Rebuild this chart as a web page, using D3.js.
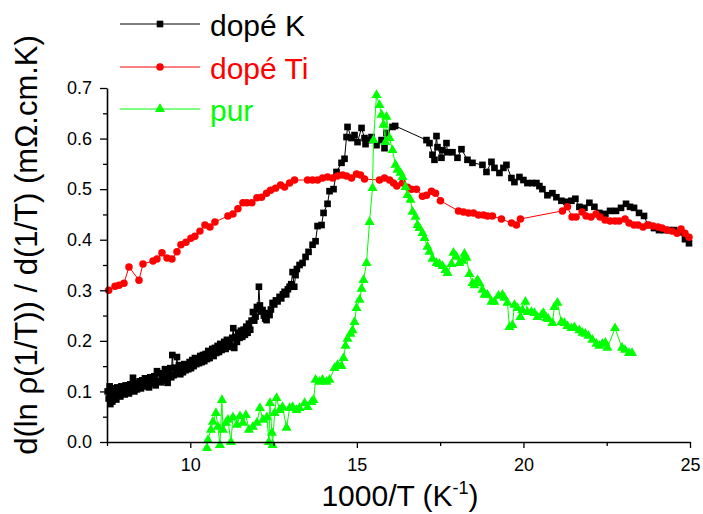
<!DOCTYPE html>
<html>
<head>
<meta charset="utf-8">
<script src="https://cdn.jsdelivr.net/npm/d3@7"></script>
<style>
html,body{margin:0;padding:0;background:#fff;}
svg{display:block;font-family:"Liberation Sans",Arial,Helvetica,sans-serif;}
</style>
</head>
<body>
<svg id="chart" width="703" height="514"></svg>
<script>
// ---- data (x = 1000/T in K^-1, y = d(ln rho(1/T))/d(1/T) in mOhm.cm.K) ----
const seriesNames = ["dopé K", "dopé Ti", "pur"];
const xTicks = [10, 15, 20, 25];
const xMinorTicks = [7.5, 12.5, 17.5, 22.5];
const yTicks = [0.0, 0.1, 0.2, 0.3, 0.4, 0.5, 0.6, 0.7];
const yMinorTicks = [0.05, 0.15, 0.25, 0.35, 0.45, 0.55, 0.65];

const dopeK = [
[7.52,.100],[7.55,.086],[7.58,.110],[7.60,.075],[7.63,.095],[7.66,.080],[7.69,.106],[7.72,.090],[7.75,.099],[7.78,.084],
[7.81,.108],[7.84,.094],[7.87,.100],[7.90,.090],[7.93,.110],[7.96,.098],[8.00,.104],[8.03,.094],[8.06,.112],[8.09,.100],
[8.12,.108],[8.16,.096],[8.20,.114],[8.24,.102],[8.28,.127],[8.32,.100],[8.36,.116],[8.40,.104],[8.44,.114],[8.48,.120],
[8.52,.106],[8.56,.122],[8.60,.110],[8.64,.126],[8.68,.112],[8.72,.122],[8.76,.108],[8.80,.128],[8.84,.116],[8.88,.124],
[8.92,.130],[8.96,.112],[9.00,.140],[9.04,.120],[9.08,.136],[9.12,.118],[9.16,.132],[9.20,.122],[9.24,.144],[9.28,.126],
[9.32,.117],[9.36,.138],[9.40,.146],[9.43,.128],[9.46,.172],[9.50,.132],[9.54,.147],[9.57,.136],[9.60,.168],[9.63,.138],
[9.66,.152],[9.70,.134],[9.74,.150],[9.78,.138],[9.82,.154],[9.86,.142],[9.90,.152],[9.94,.144],[9.98,.158],[10.02,.146],
[10.06,.162],[10.10,.150],[10.14,.166],[10.18,.154],[10.22,.164],[10.26,.156],[10.30,.170],[10.34,.158],[10.38,.172],[10.42,.160],
[10.46,.174],[10.50,.164],[10.54,.180],[10.58,.166],[10.62,.178],[10.66,.184],[10.70,.170],[10.74,.186],[10.78,.176],[10.82,.190],
[10.86,.178],[10.90,.194],[10.94,.182],[10.98,.190],[11.02,.198],[11.06,.184],[11.10,.202],[11.14,.188],[11.18,.200],[11.22,.190],
[11.26,.206],[11.29,.225],[11.32,.186],[11.36,.208],[11.40,.198],[11.44,.216],[11.48,.206],[11.52,.220],[11.56,.208],[11.60,.222],
[11.64,.212],[11.68,.228],[11.72,.216],[11.76,.234],[11.80,.222],[11.84,.240],[11.88,.257],[11.92,.240],[11.96,.248],[12.00,.267],
[12.03,.262],[12.06,.307],[12.09,.270],[12.13,.258],[12.17,.261],[12.21,.250],[12.25,.244],[12.29,.241],[12.33,.255],[12.38,.251],
[12.42,.262],[12.47,.275],[12.52,.272],[12.57,.280],[12.62,.278],[12.68,.287],[12.73,.284],[12.78,.292],[12.83,.297],[12.88,.292],
[12.93,.302],[12.98,.307],[13.03,.312],[13.07,.336],[13.12,.307],[13.16,.330],[13.20,.342],[13.28,.350],[13.37,.354],[13.46,.366],
[13.55,.376],[13.67,.390],[13.76,.397],[13.82,.427],[13.94,.429],[14.00,.453],[14.12,.471],[14.18,.496],[14.30,.500],[14.39,.534],
[14.54,.552],[14.63,.560],[14.69,.603],[14.72,.623],[14.84,.601],[14.93,.607],[15.02,.593],[15.14,.621],[15.23,.601],[15.26,.589],
[15.38,.597],[15.44,.603],[15.59,.587],[15.74,.597],[15.83,.581],[15.89,.611],[16.07,.623],[16.15,.625],
[17.09,.597],[17.18,.591],[17.27,.568],[17.33,.558],[17.39,.605],[17.42,.583],[17.54,.562],[17.57,.577],[17.69,.591],[17.72,.573],
[17.87,.573],[18.02,.562],[18.14,.579],[18.32,.558],[18.47,.552],[18.77,.548],[18.89,.534],[19.04,.554],[19.13,.542],[19.28,.532],
[19.40,.542],[19.49,.548],[19.64,.522],[19.73,.514],[19.88,.524],[20.00,.518],[20.12,.512],[20.27,.512],[20.39,.512],[20.48,.506],
[20.57,.500],[20.72,.488],[20.87,.492],[20.99,.484],[21.14,.477],[21.29,.475],[21.44,.477],[21.56,.481],[21.68,.465],[21.83,.463],
[21.98,.473],[22.13,.465],[22.28,.453],[22.46,.451],[22.60,.457],[22.78,.457],[22.93,.463],[23.08,.471],[23.20,.465],[23.32,.463],
[23.47,.453],[23.62,.447],[23.74,.429],[23.92,.423],[24.07,.419],[24.22,.419],[24.37,.419],[24.52,.419],[24.67,.415],[24.85,.401],
[24.97,.393]
];

const dopeTi = [
[7.55,.300],[7.74,.308],[7.86,.310],[8.01,.314],[8.16,.346],[8.46,.320],[8.58,.352],[8.88,.358],[9.00,.362],[9.15,.374],
[9.30,.364],[9.45,.362],[9.60,.376],[9.72,.390],[9.87,.395],[10.02,.403],[10.14,.407],[10.29,.417],[10.44,.429],[10.59,.425],
[10.74,.435],[11.13,.447],[11.28,.451],[11.43,.461],[11.58,.473],[11.70,.473],[11.85,.473],[12.00,.483],[12.14,.484],[12.29,.492],
[12.41,.498],[12.56,.502],[12.71,.508],[12.83,.504],[12.98,.512],[13.13,.518],[13.52,.518],[13.67,.518],[13.82,.518],[13.97,.522],
[14.12,.524],[14.27,.522],[14.42,.526],[14.57,.528],[14.69,.526],[14.84,.522],[14.99,.530],[15.11,.528],[15.23,.520],[15.68,.518],
[15.83,.522],[15.98,.518],[16.10,.512],[16.20,.506],[16.37,.512],[16.52,.504],[16.64,.500],[16.79,.500],[16.97,.486],[17.09,.488],
[17.24,.496],[17.36,.492],[17.51,.477],[18.05,.457],[18.20,.455],[18.35,.453],[18.50,.453],[18.65,.449],[18.80,.449],[18.92,.447],
[19.07,.447],[19.34,.441],[19.64,.433],[19.79,.429],[19.91,.441],[21.17,.457],[21.32,.465],[21.46,.445],[21.58,.445],[21.76,.455],
[21.88,.447],[22.03,.445],[22.18,.451],[22.30,.445],[22.45,.439],[22.60,.437],[22.75,.437],[22.87,.437],[23.05,.441],[23.17,.433],
[23.32,.429],[23.44,.429],[23.59,.425],[23.74,.429],[23.89,.427],[24.04,.425],[24.16,.423],[24.31,.419],[24.46,.417],[24.61,.413],
[24.73,.421],[24.85,.413],[24.97,.405]
];

const pur = [
[10.50,-.012],[10.53,.004],[10.62,.024],[10.68,.040],[10.77,.057],[10.83,.030],[10.89,-.006],[10.95,.083],[10.98,.024],[11.07,.038],
[11.13,.044],[11.22,.000],[11.28,.049],[11.40,.034],[11.49,.051],[11.58,.038],[11.67,.053],[11.76,.024],[11.88,.030],[12.00,.038],
[12.09,.067],[12.18,.044],[12.30,.049],[12.36,.000],[12.39,.077],[12.45,.018],[12.47,-.006],[12.53,.057],[12.59,.087],[12.68,.063],
[12.77,.069],[12.89,.028],[12.98,.067],[13.07,.069],[13.19,.063],[13.28,.067],[13.43,.077],[13.52,.069],[13.64,.079],[13.70,.083],
[13.76,.123],[13.88,.119],[13.97,.123],[14.09,.119],[14.18,.123],[14.33,.146],[14.42,.152],[14.54,.150],[14.60,.166],[14.66,.190],
[14.72,.204],[14.81,.214],[14.87,.221],[14.93,.237],[14.99,.265],[15.08,.281],[15.14,.303],[15.20,.320],[15.29,.354],[15.38,.435],
[15.47,.502],[15.50,.597],[15.59,.686],[15.68,.666],[15.74,.647],[15.80,.627],[15.86,.593],[15.89,.643],[15.98,.601],[16.07,.577],
[16.16,.548],[16.22,.538],[16.31,.532],[16.37,.524],[16.46,.504],[16.52,.488],[16.61,.479],[16.67,.455],[16.76,.445],[16.82,.429],
[16.88,.423],[16.97,.413],[17.03,.403],[17.12,.386],[17.18,.376],[17.27,.362],[17.39,.354],[17.48,.352],[17.57,.348],[17.66,.340],
[17.72,.334],[17.84,.352],[17.90,.374],[17.99,.366],[18.08,.354],[18.17,.358],[18.23,.372],[18.29,.364],[18.38,.332],[18.47,.314],
[18.53,.310],[18.62,.320],[18.68,.314],[18.77,.301],[18.83,.291],[18.92,.291],[19.04,.277],[19.13,.277],[19.25,.289],[19.37,.291],
[19.43,.285],[19.52,.275],[19.58,.227],[19.67,.231],[19.73,.271],[19.82,.265],[19.91,.247],[19.97,.261],[20.06,.277],[20.12,.257],
[20.24,.257],[20.33,.255],[20.42,.247],[20.54,.251],[20.60,.255],[20.69,.245],[20.75,.243],[20.87,.235],[20.93,.267],[21.02,.275],
[21.14,.237],[21.23,.235],[21.32,.229],[21.44,.225],[21.53,.227],[21.68,.221],[21.77,.216],[21.86,.214],[21.95,.210],[22.07,.202],
[22.19,.194],[22.28,.190],[22.37,.194],[22.46,.196],[22.52,.186],[22.75,.225],[22.96,.186],[23.05,.182],[23.17,.176],[23.26,.176]
];

// ---- chart ----
const svg = d3.select("#chart");
const x = d3.scaleLinear().domain([7.5, 25]).range([107, 690]);
const y = d3.scaleLinear().domain([0, 0.7]).range([442, 88]);

const colors = ["#000000", "#ff0000", "#00ff00"];
const data = [dopeK, dopeTi, pur];
const symbols = [d3.symbolSquare, d3.symbolCircle, d3.symbolTriangle];
const symSizes = [44, 44, 44];

const line = d3.line().x(d => x(d[0])).y(d => y(d[1]));

[0, 1, 2].forEach(i => {
  const g = svg.append("g");
  g.append("path").datum(data[i])
    .attr("fill", "none").attr("stroke", colors[i]).attr("stroke-width", 1)
    .attr("d", line);
  g.selectAll("path.m").data(data[i]).enter().append("path")
    .attr("class", "m")
    .attr("transform", d => `translate(${x(d[0])},${y(d[1])})`)
    .attr("d", d3.symbol().type(symbols[i]).size(symSizes[i]))
    .attr("fill", colors[i]);
});

// axes
function styleAxis(g) {
  g.selectAll("path.domain").attr("stroke", "#000").attr("stroke-width", 1.6);
  g.selectAll(".tick line").attr("stroke", "#000").attr("stroke-width", 1.3);
  g.selectAll(".tick text").attr("fill", "#000").style("font-size", "18px")
    .style("font-family", '"Liberation Sans",Arial,sans-serif');
}
const gx = svg.append("g").attr("transform", "translate(0,442)")
  .call(d3.axisBottom(x).tickValues(xTicks).tickFormat(d3.format("d")).tickSize(6).tickSizeOuter(0).tickPadding(10));
styleAxis(gx);
const gxm = svg.append("g").attr("transform", "translate(0,442)")
  .call(d3.axisBottom(x).tickValues(xMinorTicks).tickFormat("").tickSize(4).tickSizeOuter(0));
styleAxis(gxm);
gxm.select("path.domain").remove();

const gy = svg.append("g").attr("transform", "translate(107,0)")
  .call(d3.axisLeft(y).tickValues(yTicks).tickFormat(d3.format(".1f")).tickSize(7).tickSizeOuter(0).tickPadding(8));
styleAxis(gy);
const gym = svg.append("g").attr("transform", "translate(107,0)")
  .call(d3.axisLeft(y).tickValues(yMinorTicks).tickFormat("").tickSize(4).tickSizeOuter(0));
styleAxis(gym);
gym.select("path.domain").remove();

// axis titles
const xt = svg.append("text").attr("x", 400).attr("y", 506).attr("text-anchor", "middle")
  .style("font-size", "30px").attr("fill", "#000");
xt.append("tspan").text("1000/T (K");
xt.append("tspan").text("-1").style("font-size", "18px").attr("dy", -12);
xt.append("tspan").text(")").attr("dy", 12);

svg.append("text").attr("transform", "translate(37,245) rotate(-90)")
  .attr("text-anchor", "middle").style("font-size", "31px").attr("fill", "#000")
  .text("d(ln ρ(1/T)) / d(1/T) (mΩ.cm.K)");

// legend
const legY = [24, 67, 109];
seriesNames.forEach((name, i) => {
  const g = svg.append("g").attr("transform", `translate(0,${legY[i]})`);
  g.append("line").attr("x1", 120).attr("x2", 200).attr("y1", 0).attr("y2", 0)
    .attr("stroke", colors[i]).attr("stroke-width", 1);
  g.append("path").attr("transform", "translate(160,0)")
    .attr("d", d3.symbol().type(symbols[i]).size(symSizes[i])).attr("fill", colors[i]);
  g.append("text").attr("x", 210).attr("y", 12).style("font-size", "30px")
    .attr("fill", colors[i]).text(name);
});
</script>
</body>
</html>
